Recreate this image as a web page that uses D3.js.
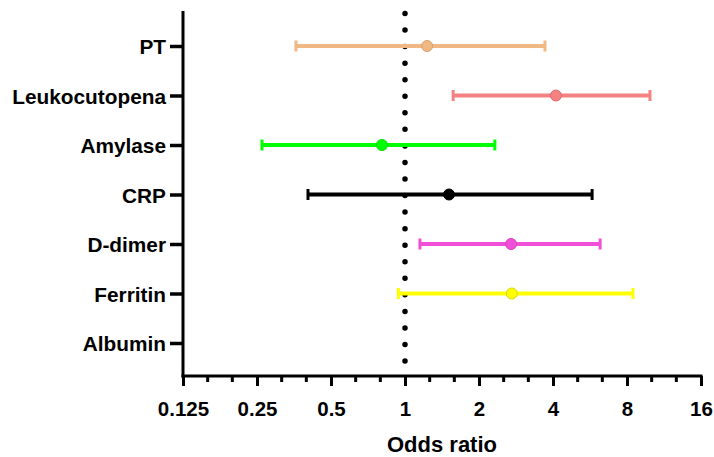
<!DOCTYPE html>
<html><head><meta charset="utf-8">
<script src="https://cdn.jsdelivr.net/npm/d3@7"></script>
<style>body{margin:0;background:#fff}svg{display:block}text{font-family:"Liberation Sans",Arial,sans-serif;font-weight:bold;fill:#000}</style>
</head><body><svg id="c" width="714" height="457"></svg>
<script>
const categories = ["PT","Leukocutopena","Amylase","CRP","D-dimer","Ferritin","Albumin"];
const oddsRatio = [1.23, 4.11, 0.806, 1.51, 2.70, 2.72, null];
const lowerCI   = [0.36, 1.57, 0.262, 0.403, 1.15, 0.94, null];
const upperCI   = [3.71, 9.92, 2.32, 5.77, 6.22, 8.46, null];
const colors    = ["#EFB884","#F58282","#00FF00","#000000","#F050D8","#FFFF00","#000000"];
const strokes   = ["#D9A06C","#E06A6A","#00DD00","#000000","#D940C0","#D8D800","#000000"];
const xTicks = [0.125,0.25,0.5,1,2,4,8,16];
const xTickLabels = ["0.125","0.25","0.5","1","2","4","8","16"];

const svg = d3.select("#c");
const x = d3.scaleLog().base(2).domain([0.125,16]).range([183,701]);
const y = d3.scalePoint().domain(categories).range([46,343]);
const axTop = 11, axBottom = 376;

// reference line at OR = 1
svg.append("line").attr("x1",x(1)).attr("x2",x(1)).attr("y1",13.5).attr("y2",362)
  .attr("stroke","#000").attr("stroke-width",5.5).attr("stroke-linecap","round")
  .attr("stroke-dasharray","0 16.55");

// x axis
const minor = [];
for (let e=-3;e<4;e++){ minor.push(Math.pow(2,e+1/3)); minor.push(Math.pow(2,e+2/3)); }
const gx = svg.append("g").attr("transform",`translate(0,${axBottom})`);
gx.call(d3.axisBottom(x).tickValues(xTicks).tickFormat((d,i)=>xTickLabels[i]).tickSize(10).tickSizeOuter(0).tickPadding(15));
gx.select(".domain").remove();
gx.selectAll(".tick line").attr("stroke","#000").attr("stroke-width",3);
gx.selectAll(".tick text").style("font-size","20.5px").attr("fill","#000");
gx.selectAll(".minor").data(minor).enter().append("line").attr("class","minor")
  .attr("x1",d=>x(d)).attr("x2",d=>x(d)).attr("y1",0).attr("y2",6).attr("stroke","#000").attr("stroke-width",3);
gx.append("line").attr("x1",181.5).attr("x2",702.5).attr("y1",0).attr("y2",0).attr("stroke","#000").attr("stroke-width",3);

// y axis
const gy = svg.append("g").attr("transform",`translate(183,0)`);
gy.call(d3.axisLeft(y).tickSize(13).tickSizeOuter(0).tickPadding(4));
gy.select(".domain").remove();
gy.selectAll(".tick line").attr("stroke","#000").attr("stroke-width",3.5);
gy.selectAll(".tick text").style("font-size","20.8px").attr("fill","#000").attr("dy","0.36em");
gy.append("line").attr("x1",0).attr("x2",0).attr("y1",axTop).attr("y2",axBottom+1.5).attr("stroke","#000").attr("stroke-width",3);

// error bars
const rows = categories.map((c,i)=>({c,or:oddsRatio[i],lo:lowerCI[i],hi:upperCI[i],col:colors[i],st:strokes[i]})).filter(d=>d.or!=null);
const g = svg.append("g");
g.selectAll(".bar").data(rows).enter().append("line")
  .attr("x1",d=>x(d.lo)).attr("x2",d=>x(d.hi)).attr("y1",d=>y(d.c)).attr("y2",d=>y(d.c))
  .attr("stroke",d=>d.col).attr("stroke-width",4);
["lo","hi"].forEach(k=>{
  g.selectAll(".cap"+k).data(rows).enter().append("line")
   .attr("x1",d=>x(d[k])).attr("x2",d=>x(d[k])).attr("y1",d=>y(d.c)-5.5).attr("y2",d=>y(d.c)+5.5)
   .attr("stroke",d=>d.col).attr("stroke-width",3);
});
g.selectAll(".pt").data(rows).enter().append("circle")
  .attr("cx",d=>x(d.or)).attr("cy",d=>y(d.c)).attr("r",5.5)
  .attr("fill",d=>d.col).attr("stroke",d=>d.st).attr("stroke-width",1);

// x title
svg.append("text").attr("x",442).attr("y",452).attr("text-anchor","middle").style("font-size","22px").text("Odds ratio");
</script></body></html>
